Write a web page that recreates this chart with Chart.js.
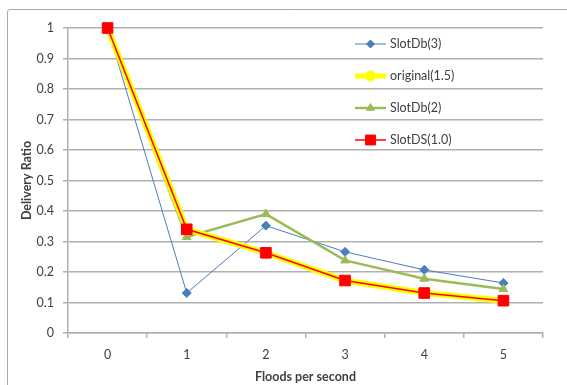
<!DOCTYPE html>
<html><head><meta charset="utf-8">
<script src="https://cdn.jsdelivr.net/npm/chart.js@4/dist/chart.umd.min.js"></script>
<style>html,body{margin:0;padding:0;background:#fff}#wrap{width:567px;height:385px;position:relative}</style>
</head><body><div id="wrap"><canvas id="c" width="567" height="385"></canvas></div>
<script>
const categories = ['0','1','2','3','4','5'];
const slotDb3 = [1.0, 0.131, 0.352, 0.266, 0.207, 0.164];
const original15 = [1.0, 0.340, 0.263, 0.172, 0.131, 0.106];
const slotDb2 = [1.0, 0.315, 0.390, 0.238, 0.178, 0.144];
const slotDS10 = [1.0, 0.340, 0.263, 0.172, 0.131, 0.106];
const yTicks = [0, 0.1, 0.2, 0.3, 0.4, 0.5, 0.6, 0.7, 0.8, 0.9, 1];

const FONT = 'Lato, "Liberation Sans", sans-serif';
const GRID = '#b0b0b0';
const TXT = '#404040';

const frame = {
  id: 'frame',
  beforeDraw(chart){
    const ctx = chart.ctx;
    ctx.save();
    ctx.fillStyle = '#fff';
    ctx.fillRect(0,0,chart.width,chart.height);
    ctx.strokeStyle = '#a8a8a8';
    ctx.lineWidth = 1;
    ctx.beginPath();
    ctx.moveTo(7.5, 385);
    ctx.lineTo(7.5, 12);
    ctx.quadraticCurveTo(7.5, 9.5, 10, 9.5);
    ctx.lineTo(567, 9.5);
    ctx.stroke();
    ctx.restore();
  }
};

const legendOrder = [0, 1, 2, 3];
const legend = {
  id: 'customLegend',
  afterDraw(chart){
    const ctx = chart.ctx;
    ctx.save();
    const ys = [44, 76, 108, 140];
    legendOrder.forEach((di, i) => {
      const ds = chart.data.datasets.find(d => d.legendIndex === di);
      const y = ys[i];
      ctx.strokeStyle = ds.borderColor;
      ctx.lineWidth = ds.legendLineWidth;
      ctx.beginPath();
      ctx.moveTo(355, y);
      ctx.lineTo(386, y);
      ctx.stroke();
      ctx.fillStyle = ds.pointBackgroundColor;
      ctx.strokeStyle = ds.pointBorderColor;
      ctx.lineWidth = 1;
      Chart.helpers.drawPoint(ctx, {pointStyle: ds.pointStyle, radius: ds.legendRadius, borderWidth: 1, rotation: 0}, 370.5, y);
      ctx.fillStyle = TXT;
      ctx.font = '12.5px ' + FONT;
      ctx.textBaseline = 'middle';
      ctx.textAlign = 'left';
      ctx.fillText(ds.label, 390, y);
    });
    ctx.restore();
  }
};

new Chart(document.getElementById('c'), {
  type: 'line',
  data: {
    labels: categories,
    datasets: [
      {label:'SlotDS(1.0)', legendIndex:3, data: slotDS10, borderColor:'#ff0000', borderWidth:1.5,
       pointStyle:'rect', pointRadius:7.5, pointBackgroundColor:'#ff0000', pointBorderColor:'#ff0000', pointBorderWidth:1,
       legendLineWidth:1.5, legendRadius:7, tension:0, clip:false},
      {label:'original(1.5)', legendIndex:1, data: original15, borderColor:'#ffff00', borderWidth:6,
       pointStyle:'circle', pointRadius:4, pointBackgroundColor:'#ffff00', pointBorderColor:'#ffff00', pointBorderWidth:1,
       legendLineWidth:5, legendRadius:5, tension:0, clip:false},
      {label:'SlotDb(2)', legendIndex:2, data: slotDb2, borderColor:'#9bbb59', borderWidth:2.5,
       pointStyle:'triangle', pointRadius:5, pointBackgroundColor:'#9bbb59', pointBorderColor:'#9bbb59', pointBorderWidth:1,
       legendLineWidth:2.5, legendRadius:4.5, tension:0, clip:false},
      {label:'SlotDb(3)', legendIndex:0, data: slotDb3, borderColor:'#4a7ebb', borderWidth:1,
       pointStyle:'rectRot', pointRadius:4.5, pointBackgroundColor:'#4a7ebb', pointBorderColor:'#4a7ebb', pointBorderWidth:1,
       legendLineWidth:1, legendRadius:4, tension:0, clip:false}
    ]
  },
  options: {
    responsive:false, animation:false, devicePixelRatio:1,
    layout:{padding:{top:28, right:24, left:0, bottom:0}},
    plugins:{legend:{display:false}, tooltip:{enabled:false}},
    scales:{
      x:{
        type:'category', offset:true,
        grid:{display:true, drawOnChartArea:false, drawTicks:true, tickLength:5, color:GRID, lineWidth:1.5, offset:true},
        border:{display:true, color:GRID, width:1.5},
        ticks:{color:TXT, font:{family:FONT, size:12.5}, padding:9},
        title:{display:true, text:'Floods per second', color:TXT, font:{family:FONT, size:12.5, weight:'bold'}, padding:{top:0,bottom:1}},
        afterFit(s){ s.height = 52; }
      },
      y:{
        min:0, max:1,
        afterBuildTicks(s){ s.ticks = yTicks.map(v => ({value:v})); },
        grid:{color:GRID, lineWidth:1.5, drawTicks:true, tickLength:5},
        border:{display:true, color:GRID, width:1.5},
        ticks:{color:TXT, font:{family:FONT, size:12.5}, padding:9, callback:(v)=>String(Math.round(v*10)/10)},
        title:{display:true, text:'Delivery Ratio', color:TXT, font:{family:FONT, size:12.5, weight:'bold'}, padding:{top:19,bottom:0}},
        afterFit(s){ s.width = 68; }
      }
    }
  },
  plugins:[frame, legend]
});
</script></body></html>
